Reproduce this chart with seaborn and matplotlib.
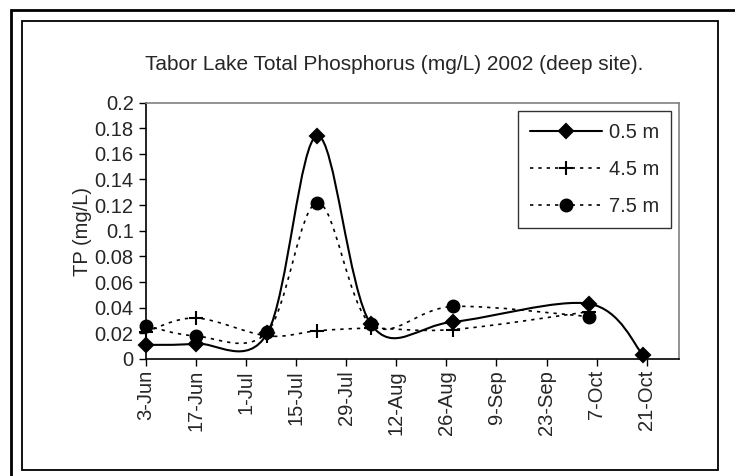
import numpy as np
import pandas as pd
import matplotlib
matplotlib.use('Agg')
import matplotlib.pyplot as plt
import matplotlib.dates as mdates
from matplotlib.path import Path
from matplotlib.patches import PathPatch, Rectangle
from matplotlib.lines import Line2D
from matplotlib.ticker import FuncFormatter
import seaborn as sns

# sample dates and TP values (mg/L)
dates = ['2002-06-03', '2002-06-17', '2002-07-07', '2002-07-21',
         '2002-08-05', '2002-08-28', '2002-10-05', '2002-10-20']
tp_05 = [0.011, 0.012, 0.020, 0.174, 0.027, 0.029, 0.043, 0.003]
tp_45 = [0.021, 0.032, 0.018, 0.022, 0.024, 0.023, 0.037, np.nan]
tp_75 = [0.026, 0.018, 0.021, 0.122, 0.027, 0.041, 0.033, np.nan]
depths = ['0.5 m', '4.5 m', '7.5 m']

sns.set_style('white')
plt.rcParams['font.family'] = ['Liberation Sans', 'DejaVu Sans']
FS = 14.5

df = pd.DataFrame({'Date': pd.to_datetime(dates), '0.5 m': tp_05,
                   '4.5 m': tp_45, '7.5 m': tp_75})
df = df.melt(id_vars='Date', var_name='Depth', value_name='TP').dropna()

styles = {
    '0.5 m': dict(marker='D', ms=7, ls='-', lw=1.5),
    '4.5 m': dict(marker='+', ms=10, ls=(0, (2, 3)), lw=1.2),
    '7.5 m': dict(marker='o', ms=8.5, ls=(0, (2, 3)), lw=1.2),
}


def smooth_path(x, y):
    # Excel style smoothed line: one cubic bezier per segment
    px = np.r_[x[0], x, x[-1]]
    py = np.r_[y[0], y, y[-1]]
    verts = [(x[0], y[0])]
    codes = [Path.MOVETO]
    for i in range(1, len(x)):
        c1 = (px[i] + (px[i + 1] - px[i - 1]) / 6, py[i] + (py[i + 1] - py[i - 1]) / 6)
        c2 = (px[i + 1] - (px[i + 2] - px[i]) / 6, py[i + 1] - (py[i + 2] - py[i]) / 6)
        verts += [c1, c2, (px[i + 1], py[i + 1])]
        codes += [Path.CURVE4] * 3
    return Path(verts, codes)


fig = plt.figure(figsize=(7.35, 4.76), dpi=100)
ax = fig.add_axes([145.5 / 735, 1 - 359 / 476, (679 - 145.5) / 735, (359 - 102.5) / 476])

handles = []
for d in depths:
    sub = df[df['Depth'] == d]
    st = styles[d]
    sns.lineplot(data=sub, x='Date', y='TP', ax=ax, color='black', lw=0,
                 marker=st['marker'], markersize=st['ms'], markeredgewidth=1.5,
                 markeredgecolor='black', legend=False, clip_on=False, zorder=4)
    xs = mdates.date2num(sub['Date'])
    ax.add_patch(PathPatch(smooth_path(xs, sub['TP'].values), fill=False,
                           edgecolor='black', lw=st['lw'], ls=st['ls'], zorder=3))
    handles.append(Line2D([], [], color='black', lw=st['lw'], ls=st['ls'],
                          marker=st['marker'], ms=st['ms'], mew=1.5))

ax.set_xlim(pd.Timestamp('2002-06-03'), pd.Timestamp('2002-10-30'))
ax.set_ylim(0, 0.2)
ax.set_xticks(pd.date_range('2002-06-03', periods=11, freq='14D'))
ax.xaxis.set_major_formatter(mdates.DateFormatter('%-d-%b'))
ax.set_yticks(np.arange(0, 0.201, 0.02))
ax.yaxis.set_major_formatter(FuncFormatter(lambda v, p: '%g' % round(v, 2)))
ax.tick_params(axis='both', direction='out', length=5, width=1, color='black',
               labelsize=FS, left=True, bottom=True)
ax.tick_params(axis='x', rotation=90, pad=3)
ax.set_xlabel('')
ax.set_ylabel('')
for s in ['left', 'bottom']:
    ax.spines[s].set_color('black')
    ax.spines[s].set_linewidth(1.2)
for s in ['top', 'right']:
    ax.spines[s].set_color('#808080')
    ax.spines[s].set_linewidth(1.2)

leg = ax.legend(handles, depths, loc='upper right', bbox_to_anchor=(0.985, 0.967),
                fontsize=FS, frameon=True, fancybox=False, borderaxespad=0,
                handlelength=3.6, handletextpad=0.3, labelspacing=0.9, borderpad=0.6)
leg.get_frame().set_edgecolor('black')
leg.get_frame().set_linewidth(1)

fig.text(394 / 735, 1 - 64 / 476, 'Tabor Lake Total Phosphorus (mg/L) 2002 (deep site).',
         ha='center', va='center', fontsize=15)
fig.text(83 / 735, 1 - 232 / 476, 'TP (mg/L)', ha='center', va='center',
         rotation=90, fontsize=FS)

# chart frames
fig.patches.append(Rectangle((11 / 735, -0.05), 1.0, 1 - 10 / 476 + 0.05, transform=fig.transFigure,
                             fill=False, edgecolor='black', lw=2))
fig.patches.append(Rectangle((22 / 735, 6 / 476), (718 - 22) / 735, (470 - 21) / 476,
                             transform=fig.transFigure, fill=False, edgecolor='black', lw=1.3))

fig.savefig('out.png', dpi=100)
